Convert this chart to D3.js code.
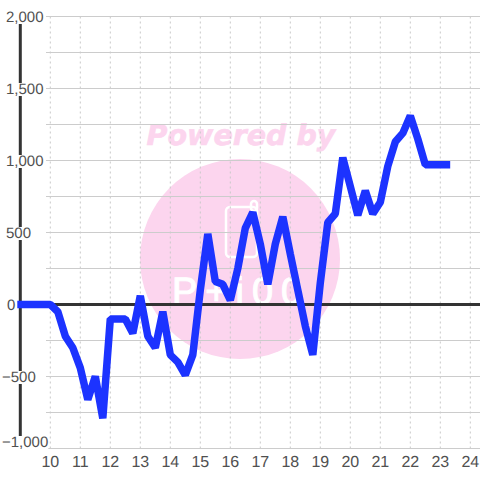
<!DOCTYPE html>
<html>
<head>
<meta charset="utf-8">
<script src="https://cdn.jsdelivr.net/npm/d3@7"></script>
<style>
  html, body { margin: 0; padding: 0; background: #fff; }
  svg { display: block; }
  text { font-family: "Liberation Sans", Arial, sans-serif; fill: #505050; text-rendering: geometricPrecision; }
</style>
</head>
<body>
<svg id="chart" width="480" height="480"></svg>
<script>
// quarter-hour samples
var hours = [8.9, 9, 9.25, 9.5, 9.75, 10, 10.25, 10.5, 10.75, 11, 11.25, 11.5, 11.75,
  12, 12.25, 12.5, 12.75, 13, 13.25, 13.5, 13.75, 14, 14.25, 14.5, 14.75,
  15, 15.25, 15.5, 15.75, 16, 16.25, 16.5, 16.75, 17, 17.25, 17.5, 17.75,
  18, 18.25, 18.5, 18.75, 19, 19.25, 19.5, 19.75, 20, 20.25, 20.5, 20.75,
  21, 21.25, 21.5, 21.75, 22, 22.25, 22.5, 22.75, 23, 23.33];
var profit = [0, 0, 0, 0, 0, 0, -50, -220, -300, -440, -660, -500, -790,
  -100, -100, -100, -200, 60, -220, -300, -50, -350, -400, -490, -350,
  100, 490, 160, 140, 30, 250, 530, 640, 420, 140, 420, 610,
  350, 100, -150, -350, 150, 570, 630, 1020, 820, 620, 790, 630,
  710, 960, 1130, 1190, 1310, 1150, 970, 970, 970, 970];
var xTicks = [10, 11, 12, 13, 14, 15, 16, 17, 18, 19, 20, 21, 22, 23, 24];
var yGrid = [-1000, -750, -500, -250, 0, 250, 500, 750, 1000, 1250, 1500, 1750, 2000];
var yLabels = [-1000, -500, 0, 500, 1000, 1500, 2000];

var svg = d3.select('#chart');

var x = d3.scaleLinear().domain([9, 24]).range([20.3, 470.3]);
var y = d3.scaleLinear().domain([-1000, 2000]).range([448.5, 16.5]);
var fmt = d3.format(',');

// watermark
var mark = svg.append('g');
mark.append('circle').attr('cx', 240).attr('cy', 259).attr('r', 100).attr('fill', '#fcd5ee');
mark.append('rect')
  .attr('x', 226).attr('y', 207).attr('width', 31).attr('height', 50).attr('rx', 4)
  .attr('fill', 'none').attr('stroke', '#fff').attr('stroke-width', 2.5);
mark.append('rect')
  .attr('x', 251).attr('y', 201).attr('width', 6).attr('height', 10).attr('rx', 3)
  .attr('fill', 'none').attr('stroke', '#fff').attr('stroke-width', 2.5);
mark.append('text')
  .attr('x', 241).attr('y', 145)
  .attr('text-anchor', 'middle')
  .style('font-family', '"DejaVu Sans"')
  .style('font-weight', 'bold')
  .style('font-style', 'italic')
  .style('font-size', '28.5px')
  .style('fill', '#fcd5ee')
  .style('stroke', '#fcd5ee')
  .style('stroke-width', '0.6px')
  .text('Powered by');
mark.append('text')
  .attr('x', 172).attr('y', 304)
  .style('font-size', '38px')
  .style('letter-spacing', '8px')
  .style('fill', '#fff')
  .style('stroke', '#fff')
  .style('stroke-width', '1px')
  .text('P+i00');

// grid
svg.append('g').selectAll('line').data(xTicks).enter().append('line')
  .attr('x1', function(d) { return x(d); })
  .attr('x2', function(d) { return x(d); })
  .attr('y1', y(2000))
  .attr('y2', y(-1000))
  .attr('stroke', '#c8c8c8')
  .attr('stroke-dasharray', '2,3');

svg.append('g').selectAll('line').data(yGrid).enter().append('line')
  .attr('x1', 46)
  .attr('x2', 480)
  .attr('y1', function(d) { return y(d); })
  .attr('y2', function(d) { return y(d); })
  .attr('stroke', '#cccccc');

// axes
svg.append('line')
  .attr('x1', x(9)).attr('x2', x(9))
  .attr('y1', y(2000)).attr('y2', y(-1000))
  .attr('stroke', '#333').attr('stroke-width', 3);
svg.append('line')
  .attr('x1', x(9)).attr('x2', 480)
  .attr('y1', y(0)).attr('y2', y(0))
  .attr('stroke', '#333').attr('stroke-width', 3);

// tick labels
svg.append('g').selectAll('text').data(xTicks).enter().append('text')
  .attr('x', function(d) { return x(d); })
  .attr('y', 467)
  .attr('text-anchor', 'middle')
  .style('font-size', '16px')
  .text(function(d) { return d; });

var labels = svg.append('g').selectAll('g').data(yLabels).enter().append('g');
labels.append('text')
  .attr('x', function(d) { return d < 0 ? 2 : d === 0 ? 7 : 6; })
  .attr('y', function(d) { return d === -1000 ? y(d) - 1.5 : y(d) + 5.5; })
  .style('font-size', '15px')
  .text(function(d) { return fmt(d); });
labels.insert('rect', 'text')
  .each(function() {
    var b = this.parentNode.querySelector('text').getBBox();
    d3.select(this)
      .attr('x', b.x).attr('width', b.width)
      .attr('y', b.y + 2).attr('height', b.height - 4);
  })
  .attr('fill', '#fff');

// profit line
var line = d3.line()
  .x(function(d, i) { return x(hours[i]); })
  .y(function(d) { return y(d); });

svg.append('path').datum(profit)
  .attr('d', line)
  .attr('fill', 'none')
  .attr('stroke', '#1c33ff')
  .attr('stroke-width', 7.5)
  .attr('stroke-linejoin', 'bevel');
</script>
</body>
</html>
